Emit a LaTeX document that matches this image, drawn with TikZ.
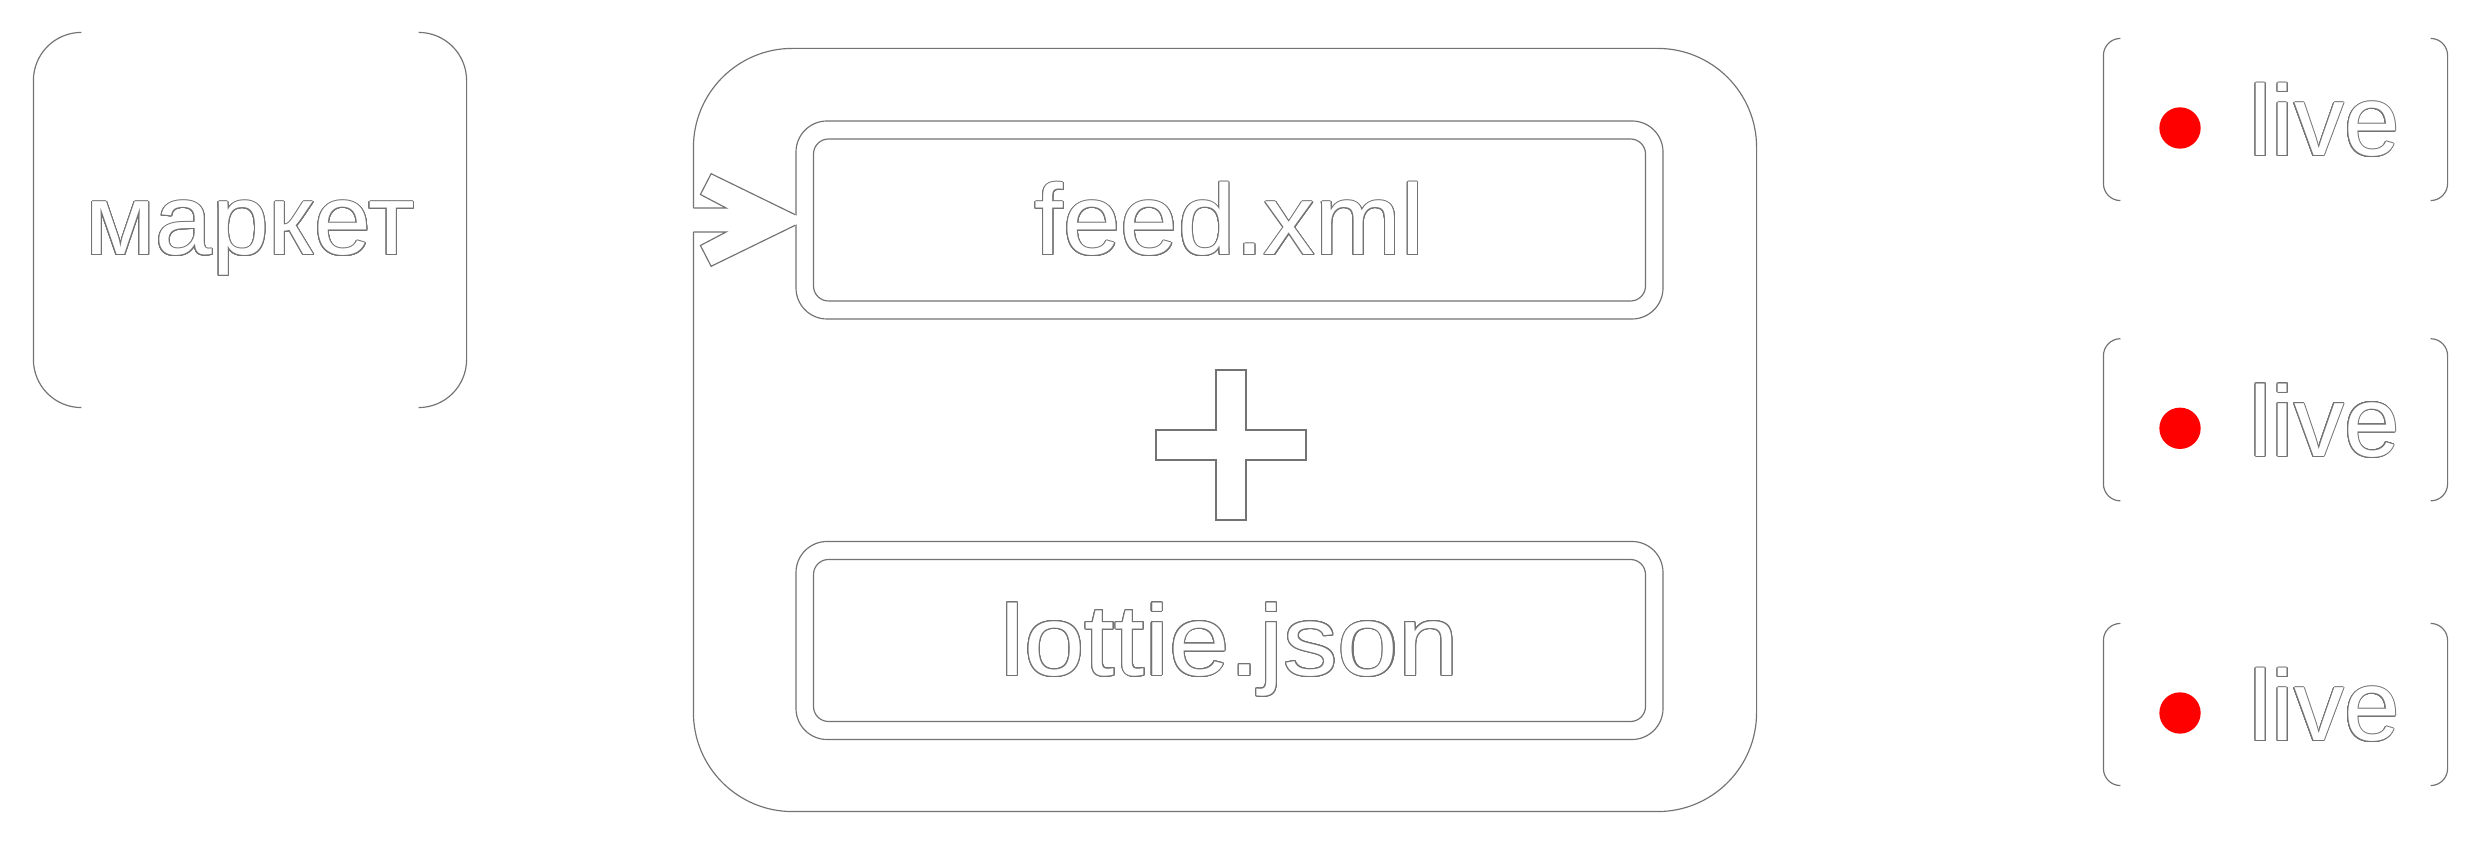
\documentclass[tikz,border=0pt]{standalone}
\usepackage{graphicx}
\usepackage{fontspec}
\setmainfont{Liberation Sans}
\usepackage{contour}
\contourlength{0.3pt}
\contournumber{24}
\usetikzlibrary{calc}
\definecolor{edge}{RGB}{115,115,115}
\newcommand{\ol}[1]{\contour{edge}{#1}}
\newcommand{\olw}[2]{\scalebox{#1}[1]{\contour{edge}{#2}}}
\newcommand{\sidebrackets}[3]{%
  \draw[ln, rounded corners=#3] ($(#1.north west)+(#2,0)$) -- (#1.north west) -- (#1.south west) -- ($(#1.south west)+(#2,0)$);
  \draw[ln, rounded corners=#3] ($(#1.north east)+(-#2,0)$) -- (#1.north east) -- (#1.south east) -- ($(#1.south east)+(-#2,0)$);}
\begin{document}
\begin{tikzpicture}[x=0.3pt,y=-0.3pt,
  line width=0.35pt,
  ln/.style={draw=edge},
  lbl/.style={text=white, font=\fontsize{30pt}{36pt}\selectfont, text height=25.5pt, text depth=4.5pt},
  box/.style={fill=white, inner sep=0pt},
  filebox/.style={box, ln, lbl, minimum width=260.1pt, minimum height=59.4pt, rounded corners=9.3pt},
  fileinner/.style={ln, inner sep=0pt, minimum width=249.6pt, minimum height=48.6pt, rounded corners=4.5pt},
  livebox/.style={box, minimum width=102.9pt, minimum height=48.3pt, rounded corners=5.1pt},
  dot/.style={circle, fill=red, minimum size=12.4pt, inner sep=0pt},
  livetxt/.style={text=white, font=\fontsize{30pt}{36pt}\selectfont, anchor=base west, inner sep=0pt}
]
\fill[white] (0,0) rectangle (2478,846);
\useasboundingbox (0,0) rectangle (2478,846);

% market
\node[box, lbl, minimum width=129.6pt, minimum height=112.2pt, rounded corners=14.4pt] (market) at (250,220) {\olw{1.02}{маркет}};
\sidebrackets{market}{48}{14.4pt}

% container
\node[box, minimum width=318.6pt, minimum height=228.6pt, rounded corners=29.7pt] (cont) at (1225,430) {};

% files
\node[filebox] (feed) at (1229.5,220) {\olw{1.03}{feed.xml}};
\node[fileinner] (feedin) at (feed.center) {};
\node[filebox] (lottie) at (1229.5,640.5) {\olw{1.085}{lottie.json}};
\node[fileinner] (lottiein) at (lottie.center) {};

\draw[ln, rounded corners=29.7pt] ($(cont.west |- feed.west)+(0,12)$) -- (cont.south west) -- (cont.south east) -- (cont.north east) -- (cont.north west) -- ($(cont.west |- feed.west)+(0,-12)$);

% plus
\coordinate (plus) at (1231,445);
\draw[ln, fill=white] ($(plus)+(-15,-75)$) -- ++(30,0) -- ++(0,60) -- ++(60,0) -- ++(0,30) -- ++(-60,0) -- ++(0,60) -- ++(-30,0) -- ++(0,-60) -- ++(-60,0) -- ++(0,-30) -- ++(60,0) -- cycle;

% arrow market -> feed
\fill[white] ($(feed.west)+(-104,-12)$) -- ($(feed.west)+(-69.3,-12)$) -- ($(feed.west)+(-95,-25.5)$) -- ($(feed.west)+(-84.3,-46.3)$) -- ($(feed.west)+(10,0)$) -- ($(feed.west)+(-84.3,46.3)$) -- ($(feed.west)+(-95,25.5)$) -- ($(feed.west)+(-69.3,12)$) -- ($(feed.west)+(-104,12)$) -- cycle;
\draw[ln] ($(feed.west)+(-102,-12)$) -- ($(feed.west)+(-69.3,-12)$) -- ($(feed.west)+(-95,-25.5)$) -- ($(feed.west)+(-84.3,-46.3)$) -- ($(feed.west)+(0,-5.2)$);
\draw[ln] ($(feed.west)+(-102,12)$) -- ($(feed.west)+(-69.3,12)$) -- ($(feed.west)+(-95,25.5)$) -- ($(feed.west)+(-84.3,46.3)$) -- ($(feed.west)+(0,5.2)$);

% live boxes
\node[livebox] (live1) at (2275.5,119.5) {};
\node[livebox] (live2) at (2275.5,419.8) {};
\node[livebox] (live3) at (2275.5,704.5) {};
\sidebrackets{live1}{17}{5.1pt}
\sidebrackets{live2}{17}{5.1pt}
\sidebrackets{live3}{17}{5.1pt}
\node[dot] (dot1) at ($(live1.center)+(-95.5,8.5)$) {};
\node[dot] (dot2) at ($(live2.center)+(-95.5,8.5)$) {};
\node[dot] (dot3) at ($(live3.center)+(-95.5,8.5)$) {};
\node[livetxt] (t1) at ($(live1.center)+(-26.5,36.5)$) {\ol{live}};
\node[livetxt] (t2) at ($(live2.center)+(-26.5,36.5)$) {\ol{live}};
\node[livetxt] (t3) at ($(live3.center)+(-26.5,36.5)$) {\ol{live}};
\end{tikzpicture}
\end{document}
